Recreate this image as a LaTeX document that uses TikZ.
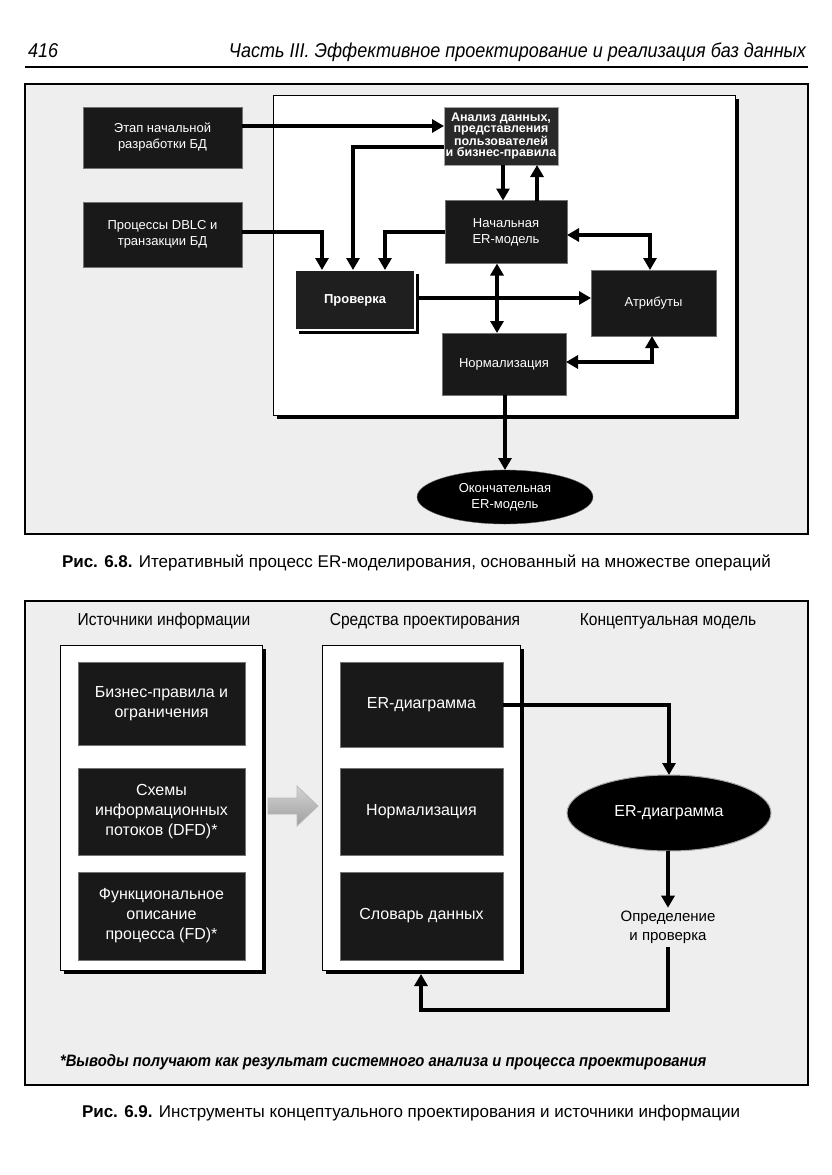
\documentclass[tikz,border=0pt]{standalone}
\usepackage{fontspec}
\setmainfont{Liberation Sans}
\newfontfamily\cond[FakeStretch=0.9]{Liberation Sans}
\usetikzlibrary{arrows.meta,shapes.geometric,shadows,calc}
\begin{document}
\begin{tikzpicture}[x=1pt,y=-1pt,
  every node/.style={inner sep=0pt, outer sep=0pt},
  dbox/.style={draw=black!55, line width=0.8pt, fill=black!90, text=white, align=center, font=\fontsize{13}{16}\selectfont},
  dbox2/.style={dbox, font=\fontsize{16}{20}\selectfont},
  tbox/.style={dbox, fill=black!84, draw=gray!70, font=\bfseries\fontsize{12.5}{11.2}\selectfont},
  arr/.style={line width=4pt, -{Triangle[length=12pt,width=13pt]}},
  darr/.style={line width=4pt, {Triangle[length=12pt,width=13pt]}-{Triangle[length=12pt,width=13pt]}},
  frame/.style={draw=black, line width=1.2pt, fill=gray!13},
  panel/.style={draw=black, line width=0.8pt, fill=white, general shadow={fill=black, shadow xshift=4pt, shadow yshift=-4pt}},
  hdr/.style={font=\cond\fontsize{17.3}{20}\selectfont, anchor=base},
]
\useasboundingbox (0,0) rectangle (831,1175);
\fill[white] (0,0) rectangle (831,1175);

% page header
\node[anchor=base west, font=\cond\itshape\fontsize{20}{22}\selectfont] (pg) at (28,57) {416};
\node[anchor=base east, font=\cond\itshape\fontsize{20}{22}\selectfont] (ttl) at (806,57) {Часть III. Эффективное проектирование и реализация баз данных};
\draw[line width=2pt] (25,67) -- (808,67);

% ---------------- Figure 6.8 ----------------
\draw[frame] (25,84) rectangle (808,534);
\node[panel, minimum width=462, minimum height=320] (wp) at (504,255) {};

\node[dbox, minimum width=159, minimum height=61] (etap) at (162.5,137.5) {Этап начальной\\разработки БД};
\node[dbox, minimum width=159, minimum height=65] (proc) at (162.5,234.5) {Процессы DBLC и\\транзакции БД};
\node[tbox, minimum width=114, minimum height=58] (anal) at (501,136) {Анализ данных,\\представления\\пользователей\\и бизнес-правила};
\node[dbox, minimum width=122, minimum height=63] (nach) at (506,232) {Начальная\\ER-модель};
\node[tbox, fill=black!88, draw=white, line width=1.5pt, minimum width=120, minimum height=60, font=\bfseries\fontsize{13}{16}\selectfont, general shadow={fill=black, shadow xshift=4pt, shadow yshift=-4pt}] (prov) at (355,300) {Проверка};
\node[dbox, minimum width=125, minimum height=66] (attr) at (653.5,303) {Атрибуты};
\node[dbox, minimum width=124, minimum height=62] (norm) at (504,364) {Нормализация};
\node[ellipse, fill=black, draw=black!60, minimum width=176, minimum height=54, text=white, align=center, font=\fontsize{13}{16}\selectfont] (ell) at (505,497) {Окончательная\\ER-модель};

\coordinate (y126) at (0,126);
\coordinate (y147) at (0,147);
\coordinate (y232) at (0,232);
\coordinate (y235) at (0,235);
\coordinate (y298) at (0,298);
\coordinate (y362) at (0,362);
\coordinate (x322) at (322,0);
\coordinate (x353) at (353,0);
\coordinate (x385) at (385,0);
\coordinate (x497) at (497,0);
\coordinate (x503) at (503,0);
\coordinate (x537) at (537,0);
\coordinate (x650) at (650,0);
\coordinate (x652) at (652,0);

\draw[arr] (etap.east |- y126) -- (anal.west |- y126);
\draw[arr] (anal.west |- y147) -| (prov.north -| x353);
\draw[arr] (proc.east |- y232) -| (prov.north -| x322);
\draw[arr] (nach.west |- y232) -| (prov.north -| x385);
\draw[arr] (anal.south -| x503) -- (nach.north -| x503);
\draw[arr] (nach.north -| x537) -- (anal.south -| x537);
\draw[darr] (nach.east |- y235) -| (attr.north -| x650);
\draw[darr] (nach.south -| x497) -- (norm.north -| x497);
\draw[arr] ([xshift=4pt]prov.east |- y298) -- (attr.west |- y298);
\draw[darr] (norm.east |- y362) -| (attr.south -| x652);
\draw[arr] (norm.south -| ell.north) -- (ell.north);

\node[anchor=base west, font=\fontsize{17}{20}\selectfont] (cap1) at (62,567) {\textbf{Рис. 6.8.} Итеративный процесс ER-моделирования, основанный на множестве операций};

% ---------------- Figure 6.9 ----------------
\draw[frame] (25,601) rectangle (808,1085);
\node[hdr] (h1) at (164,625) {Источники информации};
\node[hdr] (h2) at (425,625) {Средства проектирования};
\node[hdr] (h3) at (668,625) {Концептуальная модель};

\node[panel, minimum width=202, minimum height=325] (lp) at (161,807.5) {};
\node[panel, minimum width=198, minimum height=325] (mp) at (421,807.5) {};

\node[dbox2, minimum width=167, minimum height=83] (b1) at (161.5,703.5) {Бизнес-правила и\\ограничения};
\node[dbox2, minimum width=167, minimum height=87] (b2) at (161.5,811.5) {Схемы\\информационных\\потоков (DFD)*};
\node[dbox2, minimum width=167, minimum height=88] (b3) at (161.5,916) {Функциональное\\описание\\процесса (FD)*};
\node[dbox2, minimum width=163, minimum height=85] (m1) at (421.5,704.5) {ER-диаграмма};
\node[dbox2, minimum width=163, minimum height=87] (m2) at (421.5,811.5) {Нормализация};
\node[dbox2, minimum width=163, minimum height=88] (m3) at (421.5,916) {Словарь данных};

% block arrow between the panels
\shade[top color=gray!35, bottom color=gray!75, draw=gray!55, line width=0.8pt]
  (268,798) -- (297,798) -- (297,786) -- (318,806) -- (297,826) -- (297,814) -- (268,814) -- cycle;

\node[ellipse, fill=black, draw=gray!70, line width=1pt, minimum width=204, minimum height=76, text=white, font=\fontsize{16}{19}\selectfont] (ell2) at (669,813) {ER-диаграмма};
\node[align=center, font=\fontsize{15}{19}\selectfont] (def) at (668,927) {Определение\\и проверка};
\coordinate (cl) at (421,1010);

\draw[arr] (m1.east) -| (ell2.north);
\draw[arr] (ell2.south -| def.north) -- ([yshift=3pt]def.north);
\draw[arr] ([yshift=-4pt]def.south) |- (cl) -- ([yshift=-4pt]mp.south);

\node[anchor=base west, font=\cond\bfseries\itshape\fontsize{16.5}{19}\selectfont] (fn) at (60,1066) {*Выводы получают как результат системного анализа и процесса проектирования};

\node[anchor=base west, font=\fontsize{17}{20}\selectfont] (cap2) at (82,1117) {\textbf{Рис. 6.9.} Инструменты концептуального проектирования и источники информации};
\end{tikzpicture}
\end{document}
